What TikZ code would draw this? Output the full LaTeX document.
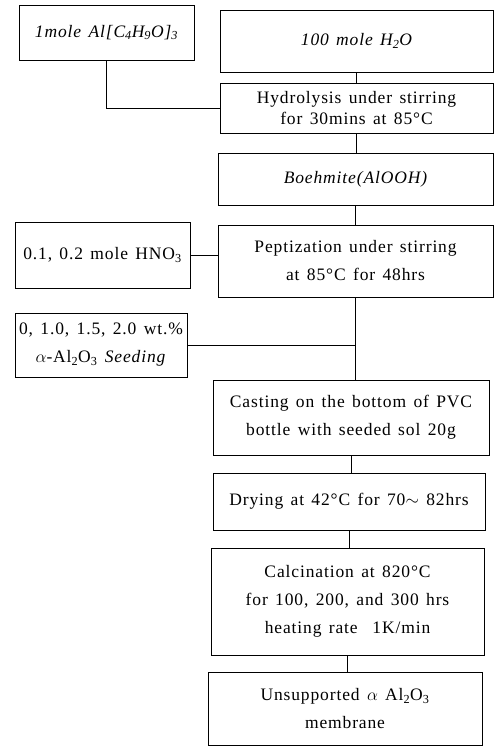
\documentclass[tikz,border=0pt]{standalone}
\usepackage{fontspec}
\setmainfont{Liberation Serif}[LetterSpace=5,WordSpace=1.4]
\newcommand{\sbs}[1]{\textsubscript{#1}}
\begin{document}
\begin{tikzpicture}[x=1pt,y=1pt,
  box/.style={draw,line width=0.9pt,inner sep=0pt,align=center,
    font=\fontsize{17.5}{28}\selectfont},
  conn/.style={line width=0.9pt}]
\useasboundingbox (0,0) rectangle (499,-751);
\node[box,minimum width=175,minimum height=55] (A) at (106.5,-32.5) {\itshape 1mole Al[C\sbs{4}H\sbs{9}O]\sbs{3}};
\node[box,minimum width=273,minimum height=62] (B) at (356.5,-41) {\itshape 100 mole H\sbs{2}O};
\node[box,minimum width=273,minimum height=50,font=\fontsize{17.5}{21}\selectfont] (C) at (356.5,-108) {Hydrolysis under stirring\\for 30mins at 85°C};
\node[box,minimum width=275,minimum height=52] (D) at (355.5,-179) {\itshape Boehmite(AlOOH)};
\node[box,minimum width=275,minimum height=72] (E) at (355.5,-261) {Peptization under stirring\\at 85°C for 48hrs};
\node[box,minimum width=175,minimum height=66] (F) at (102.5,-255) {0.1, 0.2 mole HNO\sbs{3}};
\node[box,minimum width=172,minimum height=64] (G) at (101,-345) {0, 1.0, 1.5, 2.0 wt.\%\\$\alpha$-Al\sbs{2}O\sbs{3} \textit{Seeding}};
\node[box,minimum width=276,minimum height=75] (H) at (351,-417.5) {Casting on the bottom of PVC\\bottle with seeded sol 20g};
\node[box,minimum width=272,minimum height=57] (I) at (349,-501.5) {Drying at 42°C for 70$\sim$ 82hrs};
\node[box,minimum width=273,minimum height=107] (J) at (347.5,-601.5) {Calcination at 820°C\\for 100, 200, and 300 hrs\\heating rate\ \ 1K/min};
\node[box,minimum width=274,minimum height=73] (K) at (345,-708.5) {Unsupported $\alpha$ Al\sbs{2}O\sbs{3}\\membrane};
\draw[conn] (A.south) |- (C.west);
\draw[conn] (B.south) -- (B.south |- C.north);
\draw[conn] (C.south) -- (C.south |- D.north);
\draw[conn] (D.south) -- (D.south |- E.north);
\draw[conn] (F.east) -- (F.east -| E.west);
\draw[conn] (E.south) -- (E.south |- H.north);
\draw[conn] (G.east) -- (G.east -| E.south);
\draw[conn] (H.south) -- (H.south |- I.north);
\draw[conn] (I.south) -- (I.south |- J.north);
\draw[conn] (J.south) -- (J.south |- K.north);
\end{tikzpicture}
\end{document}
